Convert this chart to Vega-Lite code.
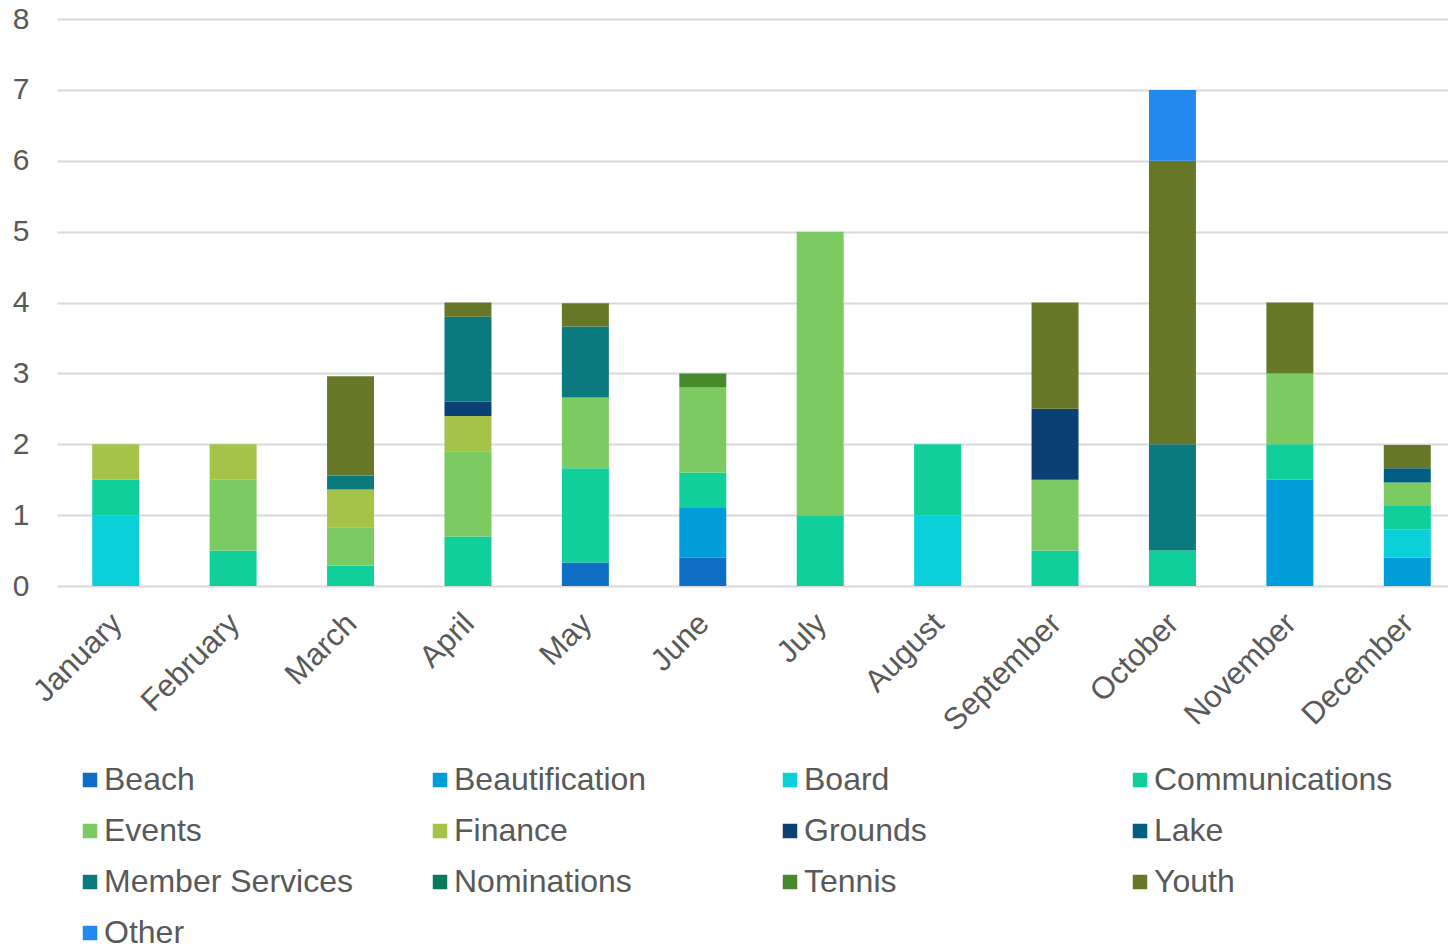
{
  "$schema": "https://vega.github.io/schema/vega-lite/v6.json",
  "autosize": "none",
  "padding": {"left": 57, "top": 19, "right": 0, "bottom": 360},
  "width": 1409,
  "height": 567,
  "background": "white",
  "config": {
    "font": "Liberation Sans",
    "view": {"stroke": null}
  },
  "data": {
    "values": [
      {"month": "January", "category": "Board", "value": 1},
      {"month": "January", "category": "Communications", "value": 0.5},
      {"month": "January", "category": "Finance", "value": 0.5},
      {"month": "February", "category": "Communications", "value": 0.5},
      {"month": "February", "category": "Events", "value": 1},
      {"month": "February", "category": "Finance", "value": 0.5},
      {"month": "March", "category": "Communications", "value": 0.29},
      {"month": "March", "category": "Events", "value": 0.54},
      {"month": "March", "category": "Finance", "value": 0.53},
      {"month": "March", "category": "Member Services", "value": 0.2},
      {"month": "March", "category": "Youth", "value": 1.4},
      {"month": "April", "category": "Communications", "value": 0.7},
      {"month": "April", "category": "Events", "value": 1.2},
      {"month": "April", "category": "Finance", "value": 0.5},
      {"month": "April", "category": "Grounds", "value": 0.2},
      {"month": "April", "category": "Member Services", "value": 1.2},
      {"month": "April", "category": "Youth", "value": 0.2},
      {"month": "May", "category": "Beach", "value": 0.33},
      {"month": "May", "category": "Communications", "value": 1.33},
      {"month": "May", "category": "Events", "value": 1.0},
      {"month": "May", "category": "Member Services", "value": 1.0},
      {"month": "May", "category": "Youth", "value": 0.33},
      {"month": "June", "category": "Beach", "value": 0.4},
      {"month": "June", "category": "Beautification", "value": 0.7},
      {"month": "June", "category": "Communications", "value": 0.5},
      {"month": "June", "category": "Events", "value": 1.2},
      {"month": "June", "category": "Tennis", "value": 0.2},
      {"month": "July", "category": "Communications", "value": 1},
      {"month": "July", "category": "Events", "value": 4},
      {"month": "August", "category": "Board", "value": 1},
      {"month": "August", "category": "Communications", "value": 1},
      {"month": "September", "category": "Communications", "value": 0.5},
      {"month": "September", "category": "Events", "value": 1},
      {"month": "September", "category": "Grounds", "value": 1},
      {"month": "September", "category": "Youth", "value": 1.5},
      {"month": "October", "category": "Communications", "value": 0.5},
      {"month": "October", "category": "Member Services", "value": 1.5},
      {"month": "October", "category": "Youth", "value": 4},
      {"month": "October", "category": "Other", "value": 1},
      {"month": "November", "category": "Beautification", "value": 1.5},
      {"month": "November", "category": "Communications", "value": 0.5},
      {"month": "November", "category": "Events", "value": 1},
      {"month": "November", "category": "Youth", "value": 1},
      {"month": "December", "category": "Beautification", "value": 0.4},
      {"month": "December", "category": "Board", "value": 0.4},
      {"month": "December", "category": "Communications", "value": 0.33},
      {"month": "December", "category": "Events", "value": 0.33},
      {"month": "December", "category": "Lake", "value": 0.2},
      {"month": "December", "category": "Youth", "value": 0.33}
    ]
  },
  "transform": [
    {"calculate": "indexof(['Beach','Beautification','Board','Communications','Events','Finance','Grounds','Lake','Member Services','Nominations','Tennis','Youth','Other'], datum.category)", "as": "stackOrder"}
  ],
  "mark": {"type": "bar"},
  "encoding": {
    "x": {
      "field": "month",
      "type": "nominal",
      "sort": ["January","February","March","April","May","June","July","August","September","October","November","December"],
      "scale": {"paddingInner": 0.6, "paddingOuter": 0.3},
      "axis": {
        "title": null,
        "labelAngle": -45,
        "labelFontSize": 31,
        "labelColor": "#595959",
        "labelPadding": 22,
        "labelOffset": -9,
        "ticks": false,
        "domain": false
      }
    },
    "y": {
      "field": "value",
      "type": "quantitative",
      "aggregate": "sum",
      "stack": "zero",
      "scale": {"domain": [0, 8], "nice": false},
      "axis": {
        "title": null,
        "values": [0,1,2,3,4,5,6,7,8],
        "labelFontSize": 30,
        "labelColor": "#595959",
        "labelPadding": 28,
        "ticks": false,
        "domain": false,
        "gridColor": "#D9D9D9",
        "gridWidth": 2
      }
    },
    "order": {"field": "stackOrder", "type": "quantitative", "sort": "ascending"},
    "color": {
      "field": "category",
      "type": "nominal",
      "scale": {
        "domain": ["Beach","Beautification","Board","Communications","Events","Finance","Grounds","Lake","Member Services","Nominations","Tennis","Youth","Other"],
        "range": ["#0F6FC6","#009DD9","#0BD0D9","#10CF9B","#7CCA62","#A5C249","#0B4075","#005E82","#0A7A7F","#0A7A5C","#478A2D","#667828","#2389EE"]
      },
      "legend": {
        "title": null,
        "orient": "none",
        "legendX": 17,
        "legendY": 745,
        "direction": "horizontal",
        "columns": 4,
        "gridAlign": "all",
        "columnPadding": 71,
        "rowPadding": 19,
        "padding": 0,
        "symbolType": "square",
        "symbolSize": 210,
        "symbolStrokeWidth": 0,
        "labelFontSize": 32,
        "labelColor": "#595959",
        "labelOffset": -2,
        "labelLimit": 400
      }
    }
  }
}
